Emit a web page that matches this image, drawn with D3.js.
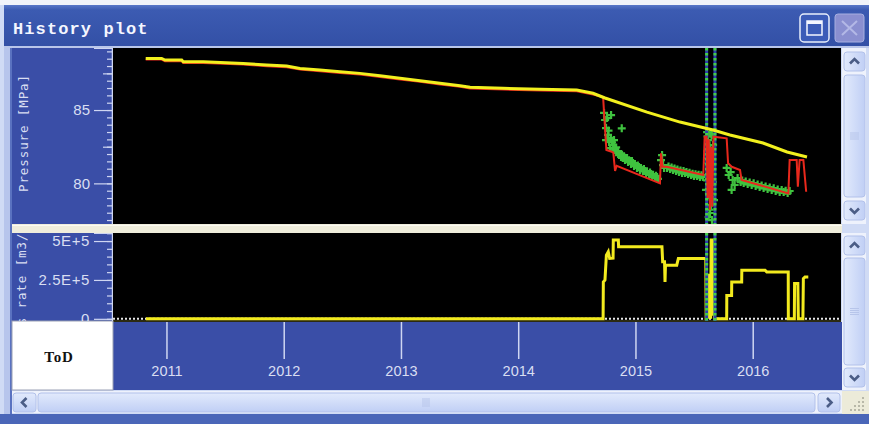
<!DOCTYPE html>
<html>
<head>
<meta charset="utf-8">
<script src="https://cdn.jsdelivr.net/npm/d3@7"></script>
<style>
html,body{margin:0;padding:0;background:#fff;}
svg{display:block;}
</style>
</head>
<body>
<svg id="chart" width="869" height="424"></svg>
<script>
// ---------------- data ----------------
const yearTicks = [2011, 2012, 2013, 2014, 2015, 2016];
const pressureTicks = [80, 85];
const rateTicks = [0, 250000, 500000];
const rateTickLabels = ["0", "2.5E+5", "5E+5"];

// observed (history) pressure, MPa
const histYears = [2010.823, 2010.959, 2010.987, 2011.130, 2011.143, 2011.314, 2011.655, 2011.855,
  2012.025, 2012.139, 2012.309, 2012.480, 2012.650, 2012.821, 2012.992, 2013.163, 2013.333,
  2013.504, 2013.589, 2013.870, 2014.186, 2014.499, 2014.638, 2014.740, 2015.098, 2015.380,
  2015.661, 2015.806, 2016.088, 2016.293, 2016.463];
const histPressure = [88.52, 88.52, 88.41, 88.41, 88.29, 88.29, 88.18, 88.07,
  88.00, 87.84, 87.73, 87.61, 87.50, 87.34, 87.16, 87.00, 86.82,
  86.66, 86.55, 86.48, 86.41, 86.36, 86.14, 85.82, 84.86, 84.18,
  83.64, 83.30, 82.75, 82.14, 81.80];

// simulated bottom-hole pressure, MPa
const simYears = [2010.823, 2010.959, 2010.987, 2011.130, 2011.143, 2011.314, 2011.655, 2011.855,
  2012.025, 2012.139, 2012.309, 2012.480, 2012.650, 2012.821, 2012.992, 2013.163, 2013.333,
  2013.504, 2013.589, 2013.870, 2014.186, 2014.499, 2014.638, 2014.724,
  2014.752, 2014.797, 2014.811, 2014.826, 2014.840, 2015.209,
  2015.218, 2015.232, 2015.266, 2015.579, 2015.590, 2015.607,
  2015.615, 2015.625, 2015.635, 2015.645, 2015.655, 2015.665,
  2015.778, 2015.790, 2015.821, 2015.892, 2015.905, 2016.304,
  2016.315, 2016.375, 2016.385, 2016.400, 2016.432, 2016.456];
const simPressure = [88.44, 88.44, 88.33, 88.33, 88.21, 88.21, 88.10, 87.99,
  87.92, 87.76, 87.65, 87.53, 87.42, 87.26, 87.08, 86.92, 86.74,
  86.58, 86.47, 86.40, 86.33, 86.28, 86.06, 85.88,
  82.27, 82.16, 82.10, 80.85, 81.20, 80.00,
  82.05, 81.13, 81.13, 80.57, 83.18, 83.18,
  79.00, 83.00, 78.18, 82.50, 78.41, 83.18,
  83.07, 81.37, 81.13, 80.91, 80.23, 79.32,
  81.59, 81.59, 79.77, 81.59, 81.59, 79.43];

// measured gauge pressure points, MPa
const gaugeYears = [2014.732, 2014.741, 2014.749, 2014.758, 2014.766, 2014.775, 2014.783, 2014.749, 2014.792, 2014.883,
  2014.809, 2014.826, 2014.843, 2014.860, 2014.877, 2014.894, 2014.817,
  2014.770, 2014.790, 2014.800, 2014.835, 2014.852, 2014.868, 2014.885, 2014.902,
  2014.911, 2014.928, 2014.937, 2014.962, 2014.979, 2014.988, 2015.013, 2015.030, 2015.039,
  2015.064, 2015.081, 2015.090, 2015.116, 2015.133, 2015.141, 2015.167, 2015.184, 2015.192,
  2014.920, 2014.945, 2014.970, 2014.995, 2015.020, 2015.047, 2015.072, 2015.098, 2015.124,
  2015.150, 2015.175,
  2015.218, 2015.227, 2015.235, 2015.244,
  2015.269, 2015.295, 2015.320, 2015.346, 2015.371, 2015.397, 2015.422, 2015.448, 2015.474,
  2015.499, 2015.525, 2015.550, 2015.576,
  2015.282, 2015.308, 2015.333, 2015.358, 2015.384, 2015.410, 2015.435, 2015.461, 2015.487,
  2015.512, 2015.538, 2015.563,
  2015.611, 2015.619, 2015.636, 2015.611, 2015.645, 2015.619, 2015.653, 2015.628, 2015.645,
  2015.636, 2015.653, 2015.662, 2015.602, 2015.670, 2015.628, 2015.660, 2015.615, 2015.650,
  2015.615, 2015.632, 2015.640, 2015.623, 2015.648, 2015.613, 2015.642, 2015.657, 2015.632,
  2015.624, 2015.650, 2015.640,
  2015.778, 2015.795, 2015.812, 2015.829, 2015.846, 2015.820, 2015.871,
  2015.897, 2015.923, 2015.957, 2015.991, 2016.025, 2016.059, 2016.093, 2016.127, 2016.162,
  2016.196, 2016.230, 2016.264, 2016.298, 2016.315,
  2015.910, 2015.940, 2015.974, 2016.008, 2016.042, 2016.076, 2016.110, 2016.145, 2016.179,
  2016.213, 2016.247, 2016.281];
const gaugePressure = [84.80, 84.32, 83.77, 84.45, 83.30, 82.82, 82.41, 82.95, 84.66, 83.75,
  82.61, 82.27, 82.14, 81.93, 81.80, 81.73, 82.95,
  83.60, 83.10, 82.80, 82.45, 82.20, 82.00, 81.95, 81.85,
  81.59, 81.73, 81.45, 81.32, 81.39, 81.18, 81.05, 81.11, 80.91,
  80.84, 80.84, 80.70, 80.57, 80.64, 80.50, 80.36, 80.43, 80.30,
  81.70, 81.58, 81.52, 81.30, 81.22, 81.05, 80.98, 80.82, 80.74,
  80.58, 80.52,
  81.59, 81.93, 81.25, 81.05,
  81.05, 80.98, 80.91, 80.84, 80.77, 80.70, 80.70, 80.64, 80.57,
  80.50, 80.50, 80.43, 80.43,
  81.15, 81.08, 81.02, 80.95, 80.88, 80.84, 80.78, 80.72, 80.66,
  80.62, 80.58, 80.55,
  83.50, 82.95, 82.27, 81.73, 81.25, 80.57, 79.89, 79.20, 78.52,
  77.98, 77.50, 82.61, 79.55, 78.86, 81.00, 80.10, 82.20, 79.30,
  83.20, 82.60, 81.90, 81.40, 80.90, 80.20, 79.60, 78.90, 78.20,
  77.70, 83.30, 83.40,
  81.05, 80.57, 80.77, 80.23, 79.89, 79.55, 80.36,
  80.09, 80.02, 79.95, 79.89, 79.82, 79.75, 79.68, 79.61, 79.55,
  79.48, 79.41, 79.41, 79.34, 79.48,
  80.20, 80.12, 80.06, 80.00, 79.93, 79.86, 79.79, 79.72, 79.66,
  79.58, 79.54, 79.50];

// gas rate, m3/d
const rateYears = [2010.825, 2014.724, 2014.726, 2014.740, 2014.752, 2014.768, 2014.780, 2014.809,
  2014.811, 2014.854, 2014.856, 2015.226, 2015.232, 2015.248, 2015.252, 2015.256, 2015.352,
  2015.366, 2015.580, 2015.600, 2015.603,
  2015.605, 2015.608, 2015.611, 2015.614, 2015.617, 2015.620, 2015.623, 2015.626, 2015.629,
  2015.632, 2015.635, 2015.638, 2015.641, 2015.646, 2015.652, 2015.657, 2015.663, 2015.668,
  2015.675, 2015.778, 2015.779, 2015.820, 2015.821, 2015.906, 2015.907, 2016.105, 2016.120,
  2016.303, 2016.304, 2016.355, 2016.357, 2016.385, 2016.389, 2016.428, 2016.432, 2016.446,
  2016.474];
const rateValues = [0, 0, 236700, 250000, 409400, 430800, 388100, 390000,
  506400, 506400, 463100, 463100, 366100, 366100, 236700, 344700, 344700,
  388100, 388100, 388100, 0,
  0, 280000, 0, 290000, 0, 270000, 0, 285000, 0,
  275000, 0, 290000, 0, 517000, 30000, 500000, 20000, 517000,
  0, 0, 150700, 150700, 236700, 236700, 312400, 312400, 301400,
  301400, 0, 0, 226400, 226400, 0, 0, 258700, 269100,
  269100];

// well events (shut-in / re-open)
const eventYears = [2015.607, 2015.678];

// ---------------- layout ----------------
const svg = d3.select("#chart");
const plotL = 113, plotR = 841;
const topT = 48, topB = 224;
const botT = 233, botB = 321;
const bandB = 390;

const x = d3.scaleLinear().domain([2010.544, 2016.753]).range([plotL, plotR]);
const yP = d3.scaleLinear().domain([77.23, 89.23]).range([topB, topT]);
const yR = d3.scaleLinear().domain([-14000, 551700]).range([botB, botT]);

const panelBlue = "#3a4ea7";
const tickCol = "#cfd6f2";
const labelCol = "#d9def2";

// ---------------- window frame ----------------
const defs = svg.append("defs");
const tg = defs.append("linearGradient").attr("id", "titleGrad").attr("x1", 0).attr("y1", 0).attr("x2", 0).attr("y2", 1);
tg.append("stop").attr("offset", 0).attr("stop-color", "#5a78c9");
tg.append("stop").attr("offset", 0.12).attr("stop-color", "#3c5bb2");
tg.append("stop").attr("offset", 1).attr("stop-color", "#3350a6");
const sg = defs.append("linearGradient").attr("id", "btnGrad").attr("x1", 0).attr("y1", 0).attr("x2", 1).attr("y2", 0);
sg.append("stop").attr("offset", 0).attr("stop-color", "#e2eafc");
sg.append("stop").attr("offset", 1).attr("stop-color", "#c0cff5");
const hg = defs.append("linearGradient").attr("id", "hbtnGrad").attr("x1", 0).attr("y1", 0).attr("x2", 0).attr("y2", 1);
hg.append("stop").attr("offset", 0).attr("stop-color", "#e2eafc");
hg.append("stop").attr("offset", 1).attr("stop-color", "#c0cff5");

svg.append("rect").attr("width", 869).attr("height", 424).attr("fill", "#d0dbf5");
svg.append("rect").attr("width", 869).attr("height", 5).attr("fill", "#f2f4fa");
svg.append("rect").attr("x", 4).attr("y", 5).attr("width", 865).attr("height", 41).attr("fill", "url(#titleGrad)");
svg.append("rect").attr("x", 4).attr("y", 46).attr("width", 865).attr("height", 2).attr("fill", "#b9c6ea");
svg.append("rect").attr("x", 4).attr("y", 48).attr("width", 6).attr("height", 366).attr("fill", "#b7c5ec");
svg.append("rect").attr("x", 10).attr("y", 48).attr("width", 2).attr("height", 366).attr("fill", "#5a72c0");
svg.append("rect").attr("x", 0).attr("y", 414).attr("width", 869).attr("height", 10).attr("fill", "#4a66b8");

svg.append("text").attr("x", 13).attr("y", 34)
  .attr("font-family", "'Liberation Mono','DejaVu Sans Mono',monospace")
  .attr("font-weight", "bold").attr("font-size", 17).attr("letter-spacing", 1.1)
  .attr("fill", "#f4f6ff").text("History plot");

// maximise button
svg.append("rect").attr("x", 800).attr("y", 14).attr("width", 29).attr("height", 28).attr("rx", 4)
  .attr("fill", "#3c5cb8").attr("stroke", "#e8eefc").attr("stroke-width", 1.5);
svg.append("rect").attr("x", 807).attr("y", 21).attr("width", 15).attr("height", 14)
  .attr("fill", "none").attr("stroke", "#f4f6ff").attr("stroke-width", 1.5);
svg.append("rect").attr("x", 807).attr("y", 21).attr("width", 15).attr("height", 3).attr("fill", "#f4f6ff");
// close button (disabled)
svg.append("rect").attr("x", 835).attr("y", 14).attr("width", 29).attr("height", 28).attr("rx", 3)
  .attr("fill", "#8a8fd0").attr("stroke", "#a7afe0").attr("stroke-width", 1);
svg.append("path").attr("d", "M842,21L857,35M857,21L842,35").attr("stroke", "#b3b8e6").attr("stroke-width", 2);

// ---------------- panels ----------------
svg.append("rect").attr("x", 12).attr("y", topT).attr("width", plotL - 12).attr("height", topB - topT).attr("fill", panelBlue);
svg.append("rect").attr("x", plotL).attr("y", topT).attr("width", plotR - plotL).attr("height", topB - topT).attr("fill", "#000");
svg.append("rect").attr("x", 12).attr("y", topB).attr("width", 830).attr("height", botT - topB).attr("fill", "#efeddc");
svg.append("rect").attr("x", 12).attr("y", topB + 1).attr("width", 830).attr("height", 1).attr("fill", "#fbfaf2");
svg.append("rect").attr("x", 12).attr("y", botT).attr("width", plotL - 12).attr("height", botB - botT).attr("fill", panelBlue);
svg.append("rect").attr("x", plotL).attr("y", botT).attr("width", plotR - plotL).attr("height", botB - botT).attr("fill", "#000");
svg.append("rect").attr("x", plotL).attr("y", botB - 1).attr("width", plotR - plotL).attr("height", 2).attr("fill", "#2b2a12");
svg.append("rect").attr("x", plotL).attr("y", botB + 1).attr("width", plotR - plotL + 1).attr("height", bandB - botB - 1).attr("fill", panelBlue);
svg.append("rect").attr("x", 12).attr("y", botB).attr("width", plotL - 12).attr("height", bandB - botB).attr("fill", "#ffffff")
  .attr("stroke", "#9aa0b4").attr("stroke-width", 1);
svg.append("text").attr("x", 59).attr("y", 362).attr("text-anchor", "middle")
  .attr("font-family", "'Liberation Serif','DejaVu Serif',serif")
  .attr("font-weight", "bold").attr("font-size", 15).attr("letter-spacing", 0.8)
  .attr("fill", "#111").text("ToD");

defs.append("clipPath").attr("id", "clipTop").append("rect")
  .attr("x", plotL).attr("y", topT).attr("width", plotR - plotL).attr("height", topB - topT);
defs.append("clipPath").attr("id", "clipBot").append("rect")
  .attr("x", plotL).attr("y", botT).attr("width", plotR - plotL).attr("height", botB - botT);
defs.append("clipPath").attr("id", "clipTopAxis").append("rect")
  .attr("x", 12).attr("y", topT).attr("width", plotL - 12).attr("height", topB - topT);
defs.append("clipPath").attr("id", "clipBotAxis").append("rect")
  .attr("x", 12).attr("y", botT).attr("width", plotL - 12).attr("height", botB - botT);

// ---------------- axes ----------------
function styleAxis(g) {
  g.selectAll(".domain").attr("stroke", tickCol).attr("stroke-width", 1.2);
  g.selectAll(".tick line").attr("stroke", tickCol).attr("stroke-width", 1.2);
  g.selectAll(".tick text").attr("fill", labelCol)
    .attr("font-family", "'Liberation Sans',Arial,sans-serif").attr("font-size", 15);
}

// pressure axis
const topAxisG = svg.append("g").attr("clip-path", "url(#clipTopAxis)");
const pMinor = d3.range(77.5, 89.01, 0.5);
const pMid = [82.5, 87.5];
topAxisG.append("g").attr("transform", `translate(${plotL - 1},0)`)
  .call(d3.axisLeft(yP).tickValues(pMinor).tickSize(5).tickFormat("")).call(styleAxis);
topAxisG.append("g").attr("transform", `translate(${plotL - 1},0)`)
  .call(d3.axisLeft(yP).tickValues(pMid).tickSize(9).tickFormat("")).call(styleAxis);
topAxisG.append("g").attr("transform", `translate(${plotL - 1},0)`)
  .call(d3.axisLeft(yP).tickValues(pressureTicks).tickSize(18).tickPadding(4).tickFormat(d3.format("d")))
  .call(styleAxis);
topAxisG.append("text")
  .attr("transform", `translate(28,${(topT + topB) / 2 - 3}) rotate(-90)`)
  .attr("text-anchor", "middle")
  .attr("font-family", "'DejaVu Sans Mono','Liberation Mono',monospace")
  .attr("font-size", 12.5).attr("letter-spacing", 0.9)
  .attr("fill", labelCol).text("Pressure [MPa]");

// rate axis
const botAxisG = svg.append("g").attr("clip-path", "url(#clipBotAxis)");
const rMinor = d3.range(0, 550001, 50000);
botAxisG.append("g").attr("transform", `translate(${plotL - 1},0)`)
  .call(d3.axisLeft(yR).tickValues(rMinor).tickSize(5).tickFormat("")).call(styleAxis);
botAxisG.append("g").attr("transform", `translate(${plotL - 1},0)`)
  .call(d3.axisLeft(yR).tickValues(rateTicks).tickSize(18).tickPadding(4)
    .tickFormat((d, i) => rateTickLabels[i]))
  .call(styleAxis)
  .call(g => g.selectAll(".tick text").attr("letter-spacing", 0.6));
botAxisG.append("text")
  .attr("transform", `translate(26,${(botT + botB) / 2 + 2}) rotate(-90)`)
  .attr("text-anchor", "middle")
  .attr("font-family", "'DejaVu Sans Mono','Liberation Mono',monospace")
  .attr("font-size", 12.5).attr("letter-spacing", 0.9)
  .attr("fill", labelCol).text("Gas rate [m3/d]");

// time axis
svg.append("g").attr("transform", `translate(0,${botB + 1})`)
  .call(d3.axisBottom(x).tickValues(yearTicks).tickSize(37).tickPadding(7).tickFormat(d3.format("d")))
  .call(styleAxis)
  .call(g => g.select(".domain").remove())
  .call(g => g.selectAll(".tick line").attr("stroke-width", 1.5))
  .call(g => g.selectAll(".tick text").attr("font-size", 14.5));

// ---------------- marks ----------------
const zipPts = (xs, ys) => xs.map((d, i) => [d, ys[i]]);
const histPts = zipPts(histYears, histPressure);
const simPts = zipPts(simYears, simPressure);
const gaugePts = zipPts(gaugeYears, gaugePressure);
const ratePts = zipPts(rateYears, rateValues);

const topG = svg.append("g").attr("clip-path", "url(#clipTop)");
const botG = svg.append("g").attr("clip-path", "url(#clipBot)");

// gauge points as crosses
topG.append("g").selectAll("path").data(gaugePts).join("path")
  .attr("transform", d => `translate(${x(d[0])},${yP(d[1])})`)
  .attr("d", "M-4,0H4M0,-4V4")
  .attr("stroke", "#3fc23f").attr("stroke-width", 2.2);

// event markers
function eventLines(g, y0, y1) {
  g.append("g").selectAll("line").data(eventYears).join("line")
    .attr("x1", d => x(d)).attr("x2", d => x(d)).attr("y1", y0).attr("y2", y1)
    .attr("stroke", "#2d3fae").attr("stroke-width", 3);
  g.append("g").selectAll("line").data(eventYears).join("line")
    .attr("x1", d => x(d)).attr("x2", d => x(d)).attr("y1", y0).attr("y2", y1)
    .attr("stroke", "#44d044").attr("stroke-width", 3).attr("stroke-dasharray", "2.5,2.5");
}
eventLines(topG, topT, topB);

const lineP = d3.line().x(d => x(d[0])).y(d => yP(d[1]));
topG.append("path").datum(simPts).attr("d", lineP)
  .attr("fill", "none").attr("stroke", "#e8281c").attr("stroke-width", 2);
topG.append("path").datum(histPts).attr("d", lineP)
  .attr("fill", "none").attr("stroke", "#f2f01e").attr("stroke-width", 3);

// rate panel
botG.append("line").attr("x1", plotL).attr("x2", plotR).attr("y1", yR(0)).attr("y2", yR(0))
  .attr("stroke", "#e6e6e6").attr("stroke-width", 2).attr("stroke-dasharray", "2,2");
const lineR = d3.line().x(d => x(d[0])).y(d => yR(d[1]));
botG.append("path").datum(ratePts).attr("d", lineR)
  .attr("fill", "none").attr("stroke", "#f2ea1e").attr("stroke-width", 3);
eventLines(botG, botT, botB);

// ---------------- scroll bars ----------------
function chevron(cx, cy, dir) {
  const s = 4.5;
  const paths = {
    up: `M${cx - s},${cy + 2}L${cx},${cy - 2.5}L${cx + s},${cy + 2}`,
    down: `M${cx - s},${cy - 2}L${cx},${cy + 2.5}L${cx + s},${cy - 2}`,
    left: `M${cx + 2},${cy - s}L${cx - 2.5},${cy}L${cx + 2},${cy + s}`,
    right: `M${cx - 2},${cy - s}L${cx + 2.5},${cy}L${cx - 2},${cy + s}`
  };
  svg.append("path").attr("d", paths[dir]).attr("fill", "none")
    .attr("stroke", "#4b5d86").attr("stroke-width", 2.6);
}
function button(x0, y0, w, h, grad) {
  svg.append("rect").attr("x", x0).attr("y", y0).attr("width", w).attr("height", h).attr("rx", 3)
    .attr("fill", grad).attr("stroke", "#b2c1ea").attr("stroke-width", 1);
}
function vScroll(y0, y1, upY, thumbY0, thumbY1, downY) {
  svg.append("rect").attr("x", 842).attr("y", y0).attr("width", 24).attr("height", y1 - y0).attr("fill", "#eef2fc");
  button(844, upY, 21, 19, "url(#btnGrad)");
  chevron(854.5, upY + 9.5, "up");
  button(844, thumbY0, 21, thumbY1 - thumbY0, "url(#btnGrad)");
  const gy = (thumbY0 + thumbY1) / 2;
  [-3, -1, 1, 3].forEach(o => svg.append("line").attr("x1", 850).attr("x2", 859)
    .attr("y1", gy + o).attr("y2", gy + o).attr("stroke", "#b7c5ea").attr("stroke-width", 1));
  button(844, downY, 21, 19, "url(#btnGrad)");
  chevron(854.5, downY + 9.5, "down");
}
vScroll(topT, topB, 52, 75, 197, 201);
vScroll(botT, bandB, 236, 258, 365, 368);

// horizontal scroll bar
svg.append("rect").attr("x", 12).attr("y", 391).attr("width", 830).attr("height", 22).attr("fill", "#eef2fc");
button(13, 393, 23, 19, "url(#hbtnGrad)");
chevron(24.5, 402.5, "left");
button(38, 393, 777, 19, "url(#hbtnGrad)");
[-3, -1, 1, 3].forEach(o => svg.append("line").attr("x1", 426 + o).attr("x2", 426 + o)
  .attr("y1", 398).attr("y2", 407).attr("stroke", "#b7c5ea").attr("stroke-width", 1));
button(818, 393, 22, 19, "url(#hbtnGrad)");
chevron(829, 402.5, "right");
// size grip
svg.append("rect").attr("x", 842).attr("y", 391).attr("width", 27).attr("height", 23).attr("fill", "#ecebd9");
[[862, 397], [858, 401], [862, 401], [854, 405], [858, 405], [862, 405], [850, 409], [854, 409], [858, 409], [862, 409]]
  .forEach(p => svg.append("rect").attr("x", p[0]).attr("y", p[1]).attr("width", 2).attr("height", 2).attr("fill", "#b8b8a8"));
</script>
</body>
</html>
